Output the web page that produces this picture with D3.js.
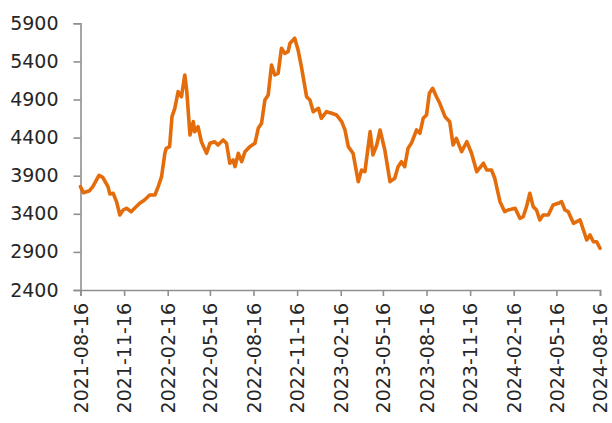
<!DOCTYPE html>
<html>
<head>
<meta charset="utf-8">
<script src="https://cdn.jsdelivr.net/npm/d3@7"></script>
<style>
  html, body { margin: 0; padding: 0; background: #fff; }
  svg { display: block; }
  .tick text { font-family: "DejaVu Sans", sans-serif; font-size: 19px; fill: #262626; }
</style>
</head>
<body>
<svg id="chart" width="612" height="423"></svg>
<script>
const dates = [
"2021-08-16","2021-08-22","2021-09-04","2021-09-11","2021-09-24","2021-10-02","2021-10-13","2021-10-17","2021-10-24","2021-10-31",
"2021-11-07","2021-11-14","2021-11-21","2021-12-01","2021-12-08","2021-12-19","2021-12-29","2022-01-09","2022-01-20","2022-01-27",
"2022-02-03","2022-02-10","2022-02-13","2022-02-20","2022-02-25","2022-03-03","2022-03-10","2022-03-17","2022-03-24","2022-03-28",
"2022-04-04","2022-04-11","2022-04-14","2022-04-21","2022-04-28","2022-05-09","2022-05-16","2022-05-26","2022-06-02","2022-06-13",
"2022-06-20","2022-06-27","2022-07-04","2022-07-08","2022-07-15","2022-07-22","2022-07-29","2022-08-08","2022-08-19","2022-08-26",
"2022-09-02","2022-09-09","2022-09-16","2022-09-23","2022-09-30","2022-10-07","2022-10-14","2022-10-21","2022-10-28","2022-11-01",
"2022-11-11","2022-11-18","2022-11-25","2022-12-06","2022-12-13","2022-12-20","2022-12-31","2023-01-06","2023-01-17","2023-01-28",
"2023-02-07","2023-02-18","2023-02-25","2023-03-04","2023-03-14","2023-03-25","2023-04-01","2023-04-08","2023-04-19","2023-04-25",
"2023-05-03","2023-05-10","2023-05-20","2023-05-31","2023-06-10","2023-06-17","2023-06-24","2023-07-01","2023-07-08","2023-07-15",
"2023-07-26","2023-08-02","2023-08-09","2023-08-16","2023-08-22","2023-08-29","2023-09-06","2023-09-13","2023-09-24","2023-10-04",
"2023-10-11","2023-10-18","2023-10-29","2023-11-09","2023-11-19","2023-11-30","2023-12-14","2023-12-21","2023-12-31","2024-01-07",
"2024-01-18","2024-01-28","2024-02-04","2024-02-19","2024-02-29","2024-03-07","2024-03-14","2024-03-21","2024-03-28","2024-04-04",
"2024-04-11","2024-04-18","2024-04-29","2024-05-09","2024-05-20","2024-05-27","2024-06-03","2024-06-10","2024-06-21","2024-07-05",
"2024-07-12","2024-07-19","2024-07-26","2024-08-02","2024-08-09","2024-08-16"
];
const values = [
3756,3677,3703,3756,3905,3879,3756,3660,3669,3559,
3384,3450,3472,3428,3472,3538,3581,3647,3647,3756,
3887,4194,4260,4281,4675,4784,5003,4937,5222,5025,
4434,4609,4478,4543,4346,4194,4325,4346,4303,4369,
4325,4063,4106,4019,4194,4084,4215,4281,4325,4522,
4588,4894,4959,5353,5222,5244,5572,5506,5528,5638,
5704,5550,5331,4937,4894,4740,4784,4653,4740,4719,
4697,4609,4500,4281,4194,3822,3975,3953,4478,4172,
4303,4500,4237,3822,3866,4019,4084,4019,4260,4325,
4500,4456,4653,4697,4981,5047,4937,4850,4675,4609,
4303,4391,4215,4346,4194,3953,4063,3975,3975,3866,
3559,3428,3450,3472,3341,3362,3494,3669,3494,3450,
3319,3384,3384,3516,3538,3559,3450,3428,3275,3319,
3188,3056,3122,3034,3034,2947
];
const yTicks = [2400, 2900, 3400, 3900, 4400, 4900, 5400, 5900];
const xTickLabels = ["2021-08-16","2021-11-16","2022-02-16","2022-05-16","2022-08-16","2022-11-16",
  "2023-02-16","2023-05-16","2023-08-16","2023-11-16","2024-02-16","2024-05-16","2024-08-16"];

const parse = d3.timeParse("%Y-%m-%d");
const data = dates.map((d, i) => ({ date: parse(d), value: values[i] }));

const svg = d3.select("#chart");
const x = d3.scaleTime()
  .domain([parse("2021-08-16"), parse("2024-08-16")])
  .range([80.5, 600]);
const y = d3.scaleLinear().domain([2400, 5900]).range([290, 23.3]);

const axisColor = "#8f8f8f";

// Y axis
const yAxis = svg.append("g")
  .attr("transform", "translate(80.5,0)")
  .call(d3.axisLeft(y).tickValues(yTicks).tickSize(7).tickPadding(15).tickFormat(d3.format("d")));
yAxis.select(".domain").attr("stroke", axisColor).attr("stroke-width", 1.6);
yAxis.selectAll(".tick line").attr("stroke", axisColor).attr("stroke-width", 1.6);

// X axis
const xAxis = svg.append("g")
  .attr("transform", "translate(0,290)")
  .call(d3.axisBottom(x).tickValues(xTickLabels.map(parse)).tickSize(6).tickFormat(d3.timeFormat("%Y-%m-%d")));
xAxis.select(".domain").attr("stroke", axisColor).attr("stroke-width", 1.6);
xAxis.selectAll(".tick line").attr("stroke", axisColor).attr("stroke-width", 1.6);
xAxis.selectAll(".tick text")
  .attr("transform", "rotate(-90)")
  .attr("text-anchor", "end")
  .attr("x", -13)
  .attr("y", 0)
  .attr("dy", "0.35em");

// Line
const line = d3.line().x(d => x(d.date)).y(d => y(d.value)).curve(d3.curveLinear);
svg.append("path")
  .datum(data)
  .attr("fill", "none")
  .attr("stroke", "#e46c0a")
  .attr("stroke-width", 3.6)
  .attr("stroke-linejoin", "round")
  .attr("stroke-linecap", "round")
  .attr("d", line);
</script>
</body>
</html>
